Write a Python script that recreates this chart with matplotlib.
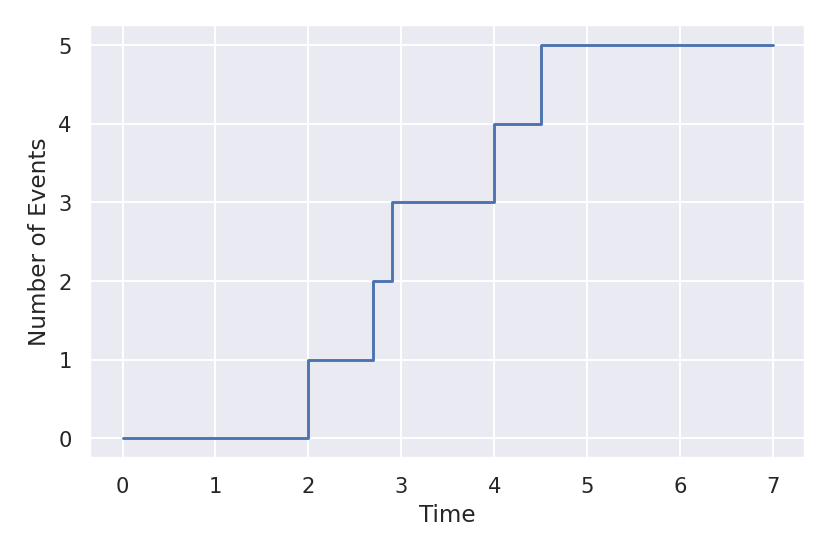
import matplotlib
matplotlib.use("Agg")
import matplotlib.pyplot as plt
import seaborn as sns

# event times and cumulative counts
times = [0, 2, 2.7, 2.9, 4, 4.5, 7]
counts = [0, 1, 2, 3, 4, 5, 5]

sns.set_theme(style="darkgrid")

fig, ax = plt.subplots(figsize=(6, 4), dpi=138.4)
ax.step(times, counts, where="post")
ax.set_xlabel("Time")
ax.set_ylabel("Number of Events")
fig.subplots_adjust(left=0.1084, right=0.9700, top=0.9530, bottom=0.1720)
fig.savefig("out.png", dpi=138.4)
